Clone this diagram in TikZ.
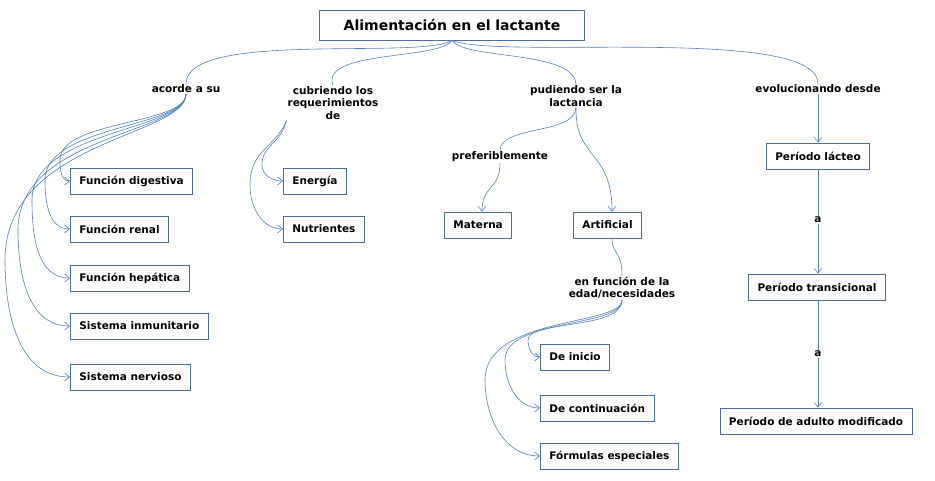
\documentclass[tikz,border=0pt]{standalone}
\usepackage{fontspec}
\setmainfont{DejaVu Sans}
\usetikzlibrary{arrows.meta,positioning}
\definecolor{lineblue}{HTML}{4F81BD}
\definecolor{boxblue}{HTML}{4A6E9E}
\begin{document}
\begin{tikzpicture}[x=1pt,y=-1pt,
  font=\fontsize{10.5}{12.5}\selectfont\bfseries,
  mybox/.style={draw=boxblue,thick,inner xsep=9pt,minimum height=26pt,anchor=west},
  mylabel/.style={align=center,inner sep=1pt},
  link/.style={lineblue,semithick},
  arr/.style={lineblue,semithick,-{Straight Barb[open,length=5pt,width=8pt]}}]

\useasboundingbox (0,0) rectangle (935,480);

% NODES
\node[draw=boxblue,thick,minimum width=265pt,minimum height=30pt,font=\fontsize{14}{16}\selectfont\bfseries](title) at (452,25){Alimentación en el lactante};

\node[mylabel](acorde) at (186,89){acorde a su};
\node[mylabel](cubr) at (333,103){cubriendo los\\requerimientos\\de};
\node[mylabel](pud) at (576,96){pudiendo ser la\\lactancia};
\node[mylabel](evol) at (818,89){evolucionando desde};

% acorde a su
\node[mybox](dig) at (70,181){Función digestiva};
\node[mybox](ren) at (70,229){Función renal};
\node[mybox](hep) at (70,278){Función hepática};
\node[mybox](inm) at (70,326){Sistema inmunitario};
\node[mybox](ner) at (70,377){Sistema nervioso};

% cubriendo
\node[mybox](ene) at (283,181){Energía};
\node[mybox](nut) at (283,229){Nutrientes};

% pudiendo ser
\node[mylabel](pref) at (500,157){preferiblemente};
\node[mybox](mat) at (444,225){Materna};
\node[mybox](art) at (573,225){Artificial};
\node[mylabel](func) at (622,288){en función de la\\edad/necesidades};
\node[mybox](ini) at (540,357){De inicio};
\node[mybox](cont) at (540,408){De continuación};
\node[mybox](esp) at (540,456){Fórmulas especiales};

% evolucionando
\node[draw=boxblue,thick,minimum height=26pt,inner xsep=9pt](lac) at (818,156){Período lácteo};
\node[mylabel](a1) at (818,220){a};
\node[draw=boxblue,thick,minimum height=26pt,inner xsep=9pt](tra) at (817,287){Período transicional};
\node[mylabel](a2) at (818,354){a};
\node[draw=boxblue,thick,minimum height=26pt,inner xsep=9pt](adu) at (816,421){Período de adulto modificado};

% ARROWS
\draw[link](title.south) .. controls (420,60) and (186,30) .. (acorde.north);
\draw[link](title.south) .. controls (440,60) and (320,50) .. (cubr.north);
\draw[link](title.south) .. controls (465,60) and (575,50) .. (pud.north);
\draw[link](title.south) .. controls (500,60) and (818,25) .. (evol.north);

\draw[arr](acorde.south) .. controls (185,125) and (60,120) .. (60,160) to[out=-90,in=180] (dig.west);
\draw[arr](acorde.south) .. controls (185,128) and (45,125) .. (45,180) to[out=-90,in=180] (ren.west);
\draw[arr](acorde.south) .. controls (185,131) and (32,130) .. (32,200) to[out=-90,in=180] (hep.west);
\draw[arr](acorde.south) .. controls (185,134) and (18,135) .. (18,230) to[out=-90,in=180] (inm.west);
\draw[arr](acorde.south) .. controls (185,137) and (5,140) .. (5,260) to[out=-90,in=180] (ner.west);

\draw[arr](cubr.south west) .. controls (280,145) and (262,145) .. (262,165) to[out=-90,in=180] (ene.west);
\draw[arr](cubr.south west) .. controls (275,148) and (250,150) .. (250,185) to[out=-90,in=180] (nut.west);

\draw[link](pud.south) .. controls (575,135) and (500,125) .. (pref.north);
\draw[arr](pref.south) .. controls (500,190) and (482,185) .. (mat.north -| 482,0);
\draw[arr](pud.south) .. controls (575,160) and (612,150) .. (art.north -| 612,0);
\draw[link](art.south -| 612,0) .. controls (612,255) and (622,250) .. (func.north);

\draw[arr](func.south) .. controls (622,330) and (528,320) .. (528,340) to[out=-90,in=180] (ini.west);
\draw[arr](func.south) .. controls (622,328) and (505,318) .. (505,360) to[out=-90,in=180] (cont.west);
\draw[arr](func.south) .. controls (622,326) and (485,316) .. (485,380) to[out=-90,in=180] (esp.west);

\draw[arr](evol.south) -- (lac.north);
\draw[link](lac.south) -- (a1.north);
\draw[arr](a1.south) -- (tra.north -| a1);
\draw[link](tra.south -| a2) -- (a2.north);
\draw[arr](a2.south) -- (adu.north -| a2);

\end{tikzpicture}
\end{document}
